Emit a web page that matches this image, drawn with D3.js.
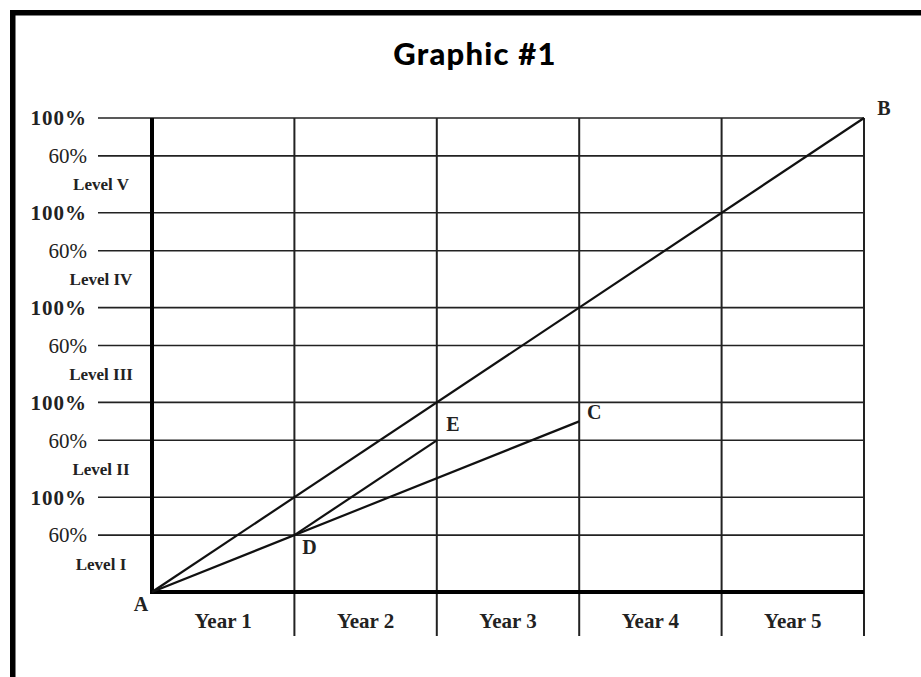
<!DOCTYPE html>
<html><head><meta charset="utf-8">
<script src="https://cdn.jsdelivr.net/npm/d3@7"></script>
<style>body{margin:0;background:#fff;}svg{display:block;}</style>
</head><body>
<svg id="c" width="921" height="677"></svg>
<script>
const title = "Graphic #1";
const years = ["Year 1", "Year 2", "Year 3", "Year 4", "Year 5"];
const levels = ["Level I", "Level II", "Level III", "Level IV", "Level V"];
const tickValues = [0.6, 1, 1.6, 2, 2.6, 3, 3.6, 4, 4.6, 5];
const tickLabels = ["60%", "100%", "60%", "100%", "60%", "100%", "60%", "100%", "60%", "100%"];
const pointNames = ["A", "B", "C", "D", "E"];
const pointYear = [0, 5, 3, 1, 2];
const pointLevel = [0, 5, 1.8, 0.6, 1.6];
const segments = [["A", "B"], ["A", "C"], ["D", "E"]];

const svg = d3.select("#c");
const x = d3.scaleLinear().domain([0, 5]).range([152, 864]);
const y = d3.scaleLinear().domain([0, 5]).range([592, 118]);
const serif = "'Liberation Serif','Times New Roman',serif";

// frame
svg.append("path").attr("d", "M12.75,680 V12.75 H923")
  .attr("fill", "none").attr("stroke", "#000").attr("stroke-width", 5.5);

svg.append("text").attr("x", 475).attr("y", 65).attr("text-anchor", "middle")
  .attr("font-family", "Lato, 'Open Sans', sans-serif").attr("font-weight", 900)
  .attr("font-size", 31).attr("letter-spacing", 1.2).attr("fill", "#000").text(title);

// horizontal grid lines
svg.append("g").selectAll("line").data(tickValues).join("line")
  .attr("x1", 98).attr("x2", x(5)).attr("y1", d => y(d)).attr("y2", d => y(d))
  .attr("stroke", "#222").attr("stroke-width", 1.6);

// vertical grid lines
svg.append("g").selectAll("line").data(d3.range(1, 6)).join("line")
  .attr("x1", d => x(d)).attr("x2", d => x(d)).attr("y1", y(5)).attr("y2", 636)
  .attr("stroke", "#222").attr("stroke-width", 2);

// axes
const gy = svg.append("g").attr("transform", `translate(${x(0)},0)`)
  .call(d3.axisLeft(y).tickValues([]).tickSize(0));
gy.select(".domain").attr("stroke", "#000").attr("stroke-width", 4).attr("d", `M0,${y(5)}V${y(0) + 2}`);
const gx = svg.append("g").attr("transform", `translate(0,${y(0)})`)
  .call(d3.axisBottom(x).tickValues([]).tickSize(0));
gx.select(".domain").attr("stroke", "#000").attr("stroke-width", 4).attr("d", `M${x(0) - 2},0H${x(5)}`);

// percent labels
svg.append("g").selectAll("text").data(tickValues).join("text")
  .attr("x", 87).attr("y", d => y(d)).attr("dy", "0.35em").attr("text-anchor", "end")
  .attr("font-family", serif).attr("font-size", 21)
  .attr("letter-spacing", (d, i) => tickLabels[i] === "100%" ? 1 : 0)
  .attr("font-weight", (d, i) => tickLabels[i] === "100%" ? "bold" : "normal")
  .attr("fill", "#222").text((d, i) => tickLabels[i]);

// level labels
svg.append("g").selectAll("text").data(levels).join("text")
  .attr("x", 101).attr("y", (d, i) => y(i + 0.3)).attr("dy", "0.35em").attr("text-anchor", "middle")
  .attr("font-family", serif).attr("font-size", 17).attr("font-weight", "bold")
  .attr("fill", "#222").text(d => d);

// year labels
svg.append("g").selectAll("text").data(years).join("text")
  .attr("x", (d, i) => x(i + 0.5)).attr("y", 628).attr("text-anchor", "middle")
  .attr("font-family", serif).attr("font-size", 21).attr("font-weight", "bold")
  .attr("fill", "#222").text(d => d);

// segments
const pt = n => { const i = pointNames.indexOf(n); return [pointYear[i], pointLevel[i]]; };
const line = d3.line().x(d => x(d[0])).y(d => y(d[1]));
svg.append("g").selectAll("path").data(segments).join("path")
  .attr("d", s => line([pt(s[0]), pt(s[1])]))
  .attr("fill", "none").attr("stroke", "#111").attr("stroke-width", 2.2);

// point labels
const labelOff = {A: [-11, 19], B: [20, -3], C: [15, -2], D: [15, 19], E: [16, -9]};
svg.append("g").selectAll("text").data(pointNames).join("text")
  .attr("x", (d, i) => x(pointYear[i]) + labelOff[d][0])
  .attr("y", (d, i) => y(pointLevel[i]) + labelOff[d][1])
  .attr("text-anchor", "middle")
  .attr("font-family", serif).attr("font-size", 20).attr("font-weight", "bold")
  .attr("fill", "#222").text(d => d);
</script>
</body></html>
